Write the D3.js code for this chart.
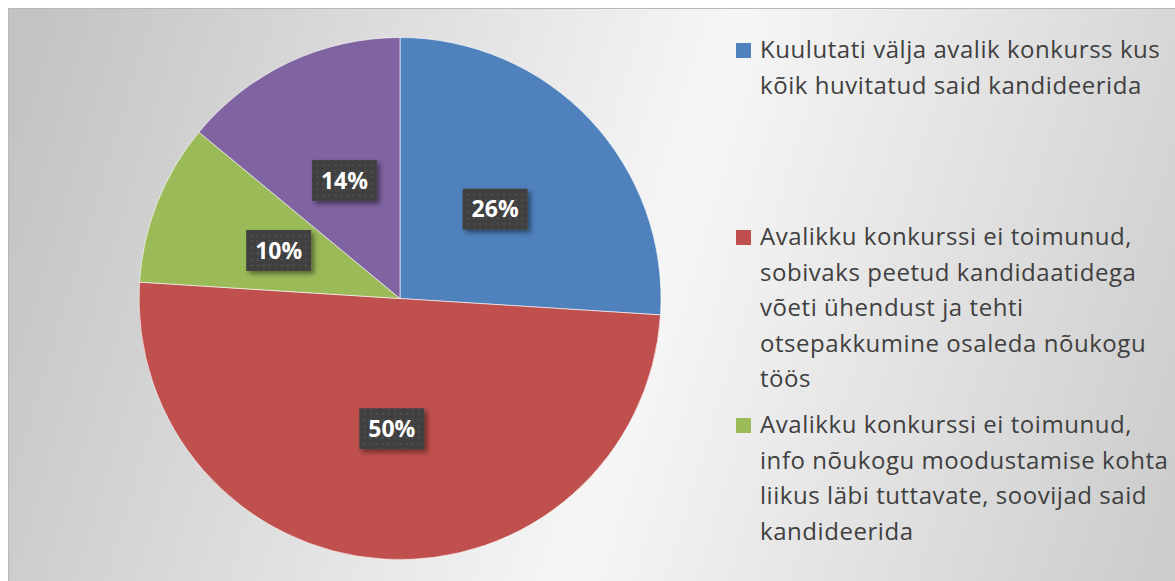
<!DOCTYPE html>
<html>
<head>
<meta charset="utf-8">
<script src="https://cdn.jsdelivr.net/npm/d3@7"></script>
<style>
  body { margin: 0; background: #fff; }
  svg { display: block; }
</style>
</head>
<body>
<div id="chart"></div>
<script>
const svgWidth = 1175;
const svgHeight = 581;

// slice data, clockwise from 12 o'clock
const categories = [
    "Kuulutati välja avalik konkurss kus kõik huvitatud said kandideerida",
    "Avalikku konkurssi ei toimunud, sobivaks peetud kandidaatidega võeti ühendust ja tehti otsepakkumine osaleda nõukogu töös",
    "Avalikku konkurssi ei toimunud, info nõukogu moodustamise kohta liikus läbi tuttavate, soovijad said kandideerida",
    null  // 4th legend entry is outside the visible picture
];
const shares = [26, 50, 10, 14];
const sliceColors = ["#4f81bd", "#c0504d", "#9bbb59", "#8064a2"];
// legend lines as wrapped in the picture
const legendLines = [
    ["Kuulutati välja avalik konkurss kus", "kõik huvitatud said kandideerida"],
    ["Avalikku konkurssi ei toimunud,", "sobivaks peetud kandidaatidega", "võeti ühendust ja tehti", "otsepakkumine osaleda nõukogu", "töös"],
    ["Avalikku konkurssi ei toimunud,", "info nõukogu moodustamise kohta", "liikus läbi tuttavate, soovijad said", "kandideerida"]
];

const cx = 400, cy = 298.5, radius = 261;
const legendX = 736;
const legendTops = [58, 245, 433];
const lineGap = 35.5;

const svg = d3.select("#chart")
    .append("svg")
    .attr("width", svgWidth)
    .attr("height", svgHeight);

const defs = svg.append("defs");

// background gradient of the plot area
const grad = defs.append("linearGradient")
    .attr("id", "bg")
    .attr("gradientUnits", "userSpaceOnUse")
    .attr("x1", 8).attr("y1", 120)
    .attr("x2", 1175).attr("y2", 470);
grad.append("stop").attr("offset", "0").attr("stop-color", "#c3c3c3");
grad.append("stop").attr("offset", "0.55").attr("stop-color", "#f6f6f6");
grad.append("stop").attr("offset", "1").attr("stop-color", "#cdcdcd");

// dotted dark fill for the data labels
const pat = defs.append("pattern")
    .attr("id", "dots")
    .attr("patternUnits", "userSpaceOnUse")
    .attr("width", 6).attr("height", 6);
pat.append("rect").attr("width", 6).attr("height", 6).attr("fill", "#3f3f3f");
pat.append("circle").attr("cx", 3).attr("cy", 3).attr("r", 1).attr("fill", "#575757");

const shadow = defs.append("filter")
    .attr("id", "shadow")
    .attr("x", "-30%").attr("y", "-30%")
    .attr("width", "160%").attr("height", "160%");
shadow.append("feDropShadow")
    .attr("dx", 3).attr("dy", 3)
    .attr("stdDeviation", 2.5)
    .attr("flood-color", "#000")
    .attr("flood-opacity", 0.45);

svg.append("rect")
    .attr("x", 8.5).attr("y", 8.5)
    .attr("width", svgWidth).attr("height", svgHeight)
    .attr("fill", "url(#bg)")
    .attr("stroke", "#b8b8b8")
    .attr("stroke-width", 1);

// pie
const pie = d3.pie().sort(null).value(d => d);
const arcs = pie(shares);
const arc = d3.arc().innerRadius(0).outerRadius(radius);

const g = svg.append("g").attr("transform", "translate(" + cx + "," + cy + ")");

g.selectAll("path.slice")
    .data(arcs)
    .enter()
    .append("path")
    .attr("class", "slice")
    .attr("d", arc)
    .attr("fill", (d, i) => sliceColors[i])
    .attr("stroke", "#ffffff")
    .attr("stroke-opacity", 0.6)
    .attr("stroke-width", 1);

// data labels
const boxW = 65, boxH = 41;
const labels = g.selectAll("g.label")
    .data(arcs)
    .enter()
    .append("g")
    .attr("class", "label")
    .attr("transform", d => {
        const c = arc.centroid(d);
        return "translate(" + c[0] + "," + c[1] + ")";
    });

labels.append("rect")
    .attr("x", -boxW / 2).attr("y", -boxH / 2)
    .attr("width", boxW).attr("height", boxH)
    .attr("fill", "url(#dots)")
    .attr("filter", "url(#shadow)");

labels.append("text")
    .attr("text-anchor", "middle")
    .attr("dy", "0.36em")
    .attr("font-family", "'Open Sans', sans-serif")
    .attr("font-weight", "bold")
    .attr("font-size", 23)
    .attr("fill", "#ffffff")
    .text(d => d.data + "%");

// legend
const legend = svg.append("g").attr("class", "legend");
legendLines.forEach(function(lines, i) {
    if (categories[i] === null) return;
    const top = legendTops[i];
    legend.append("rect")
        .attr("x", legendX).attr("y", top - 15)
        .attr("width", 15).attr("height", 15)
        .attr("fill", sliceColors[i]);
    const t = legend.append("text")
        .attr("font-family", "'Open Sans', sans-serif")
        .attr("font-size", 24)
        .attr("letter-spacing", 0.55)
        .attr("fill", "#404040");
    lines.forEach(function(line, j) {
        t.append("tspan")
            .attr("x", legendX + 24)
            .attr("y", top + j * lineGap)
            .text(line);
    });
});
</script>
</body>
</html>
